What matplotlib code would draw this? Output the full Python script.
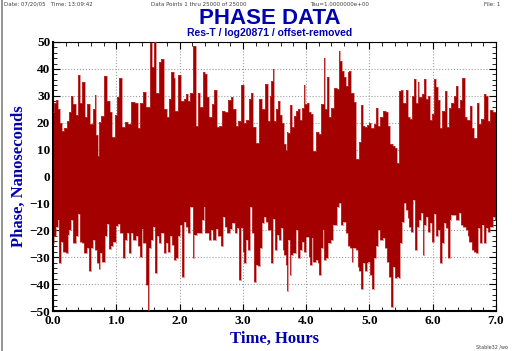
"""Phase data plot (Stable32 style)"""
import matplotlib
matplotlib.use('Agg')
import matplotlib.pyplot as plt
import numpy as np

# Envelope: time in hours, phase in ns
t_up = [0.00, 0.02, 0.06, 0.10, 0.13, 0.16, 0.20, 0.23, 0.27, 0.30, 0.34, 0.38, 0.40, 0.44,
        0.49, 0.51, 0.57, 0.60, 0.66, 0.67, 0.70, 0.72, 0.74, 0.79, 0.83, 0.87, 0.92, 0.96,
        1.00, 1.03, 1.07, 1.11, 1.15, 1.21, 1.26, 1.32, 1.36, 1.40, 1.45, 1.49, 1.52, 1.54,
        1.58, 1.62, 1.65, 1.69, 1.73, 1.77, 1.82, 1.85, 1.89, 1.92, 1.95, 2.01, 2.05, 2.08,
        2.11, 2.15, 2.19, 2.24, 2.27, 2.31, 2.35, 2.38, 2.42, 2.46, 2.48, 2.53, 2.57, 2.61,
        2.65, 2.69, 2.74, 2.79, 2.83, 2.87, 2.90, 2.95, 3.00, 3.04, 3.07, 3.11, 3.14, 3.18,
        3.22, 3.28, 3.33, 3.37, 3.41, 3.44, 3.46, 3.48, 3.51, 3.54, 3.57, 3.61, 3.64, 3.67,
        3.69, 3.71, 3.73, 3.76, 3.78, 3.83, 3.85, 3.88, 3.92, 3.95, 3.97, 4.00, 4.04, 4.06,
        4.10, 4.13, 4.18, 4.22, 4.26, 4.29, 4.32, 4.34, 4.38, 4.42, 4.46, 4.50, 4.53, 4.55,
        4.59, 4.61, 4.64, 4.67, 4.69, 4.74, 4.77, 4.82, 4.85, 4.89, 4.92, 4.95, 4.98, 5.01,
        5.05, 5.08, 5.12, 5.15, 5.19, 5.24, 5.27, 5.31, 5.35, 5.39, 5.42, 5.44, 5.48, 5.51,
        5.55, 5.59, 5.62, 5.66, 5.69, 5.72, 5.75, 5.77, 5.81, 5.84, 5.88, 5.91, 5.94, 5.97,
        6.00, 6.04, 6.07, 6.11, 6.13, 6.17, 6.21, 6.24, 6.27, 6.31, 6.35, 6.39, 6.42, 6.45,
        6.48, 6.53, 6.56, 6.61, 6.64, 6.68, 6.71, 6.75, 6.78, 6.83, 6.85, 6.89, 6.93, 6.96, 7.00]
upper = [23.8, 27.5, 28.4, 25.0, 20.0, 17.0, 18.0, 20.6, 24.0, 30.0, 27.0, 23.0, 37.8, 27.5,
         35.0, 22.0, 27.0, 19.4, 25.0, 30.4, 15.6, 7.5, 20.4, 22.5, 37.3, 28.0, 24.0, 14.8,
         22.9, 29.4, 36.6, 18.5, 20.3, 19.6, 27.8, 27.5, 18.0, 27.5, 31.5, 26.0, 26.0, 49.6,
         40.6, 50.0, 30.9, 42.5, 43.8, 25.0, 22.0, 28.8, 38.8, 36.6, 24.4, 37.8, 28.0, 28.8,
         30.6, 28.0, 31.0, 48.4, 18.8, 31.0, 26.0, 38.8, 38.0, 29.4, 22.0, 27.0, 32.0, 18.3,
         18.8, 24.4, 23.8, 28.4, 29.4, 25.0, 18.8, 20.6, 34.0, 20.0, 21.0, 28.8, 31.0, 18.3,
         12.4, 28.8, 25.0, 34.4, 20.6, 30.0, 35.4, 40.0, 20.6, 25.0, 28.0, 23.0, 20.0, 12.0,
         10.0, 16.6, 16.0, 26.6, 18.3, 22.5, 24.4, 25.0, 21.0, 25.6, 34.0, 27.0, 27.3, 23.8,
         23.4, 9.5, 16.6, 15.9, 27.0, 44.0, 25.0, 37.0, 22.0, 25.6, 33.0, 32.5, 46.5, 42.9,
         39.4, 36.9, 33.8, 38.8, 39.1, 30.9, 27.8, 6.5, 13.0, 26.4, 18.8, 18.3, 19.0, 20.0,
         18.0, 19.4, 25.4, 18.8, 22.3, 24.4, 24.1, 18.8, 12.0, 11.5, 10.5, 5.0, 31.6, 32.1,
         27.3, 32.1, 22.3, 21.3, 30.0, 36.3, 27.5, 35.3, 29.4, 30.6, 36.3, 28.8, 30.0, 20.9,
         23.4, 36.3, 33.1, 28.3, 18.0, 24.4, 31.6, 18.3, 25.3, 27.5, 30.0, 33.8, 25.6, 28.3,
         36.6, 22.0, 20.9, 26.3, 18.0, 14.4, 27.5, 19.4, 21.3, 30.6, 30.0, 20.6, 24.6, 23.8, 24.0]

t_lo = [0.00, 0.02, 0.06, 0.09, 0.11, 0.14, 0.18, 0.22, 0.25, 0.27, 0.30, 0.34, 0.38, 0.42,
        0.44, 0.48, 0.51, 0.55, 0.58, 0.61, 0.65, 0.68, 0.71, 0.74, 0.76, 0.80, 0.83, 0.87,
        0.90, 0.94, 0.97, 1.01, 1.05, 1.08, 1.12, 1.15, 1.19, 1.21, 1.25, 1.29, 1.33, 1.36,
        1.39, 1.41, 1.45, 1.49, 1.51, 1.53, 1.56, 1.59, 1.62, 1.66, 1.69, 1.73, 1.77, 1.79,
        1.83, 1.86, 1.90, 1.93, 1.96, 1.99, 2.02, 2.05, 2.08, 2.12, 2.15, 2.19, 2.22, 2.25,
        2.30, 2.33, 2.37, 2.39, 2.42, 2.46, 2.48, 2.52, 2.55, 2.59, 2.63, 2.67, 2.70, 2.74,
        2.77, 2.81, 2.85, 2.89, 2.92, 2.96, 2.98, 3.01, 3.04, 3.06, 3.10, 3.13, 3.16, 3.19,
        3.22, 3.25, 3.29, 3.32, 3.35, 3.38, 3.42, 3.46, 3.48, 3.52, 3.55, 3.59, 3.62, 3.64,
        3.67, 3.69, 3.71, 3.73, 3.75, 3.78, 3.82, 3.85, 3.89, 3.92, 3.96, 3.98, 4.03, 4.05,
        4.07, 4.10, 4.13, 4.17, 4.19, 4.22, 4.25, 4.27, 4.30, 4.33, 4.36, 4.41, 4.44, 4.47,
        4.51, 4.54, 4.56, 4.61, 4.64, 4.68, 4.71, 4.73, 4.76, 4.80, 4.83, 4.85, 4.88, 4.91,
        4.94, 4.97, 5.00, 5.03, 5.05, 5.09, 5.13, 5.15, 5.19, 5.23, 5.27, 5.30, 5.33, 5.35,
        5.38, 5.42, 5.45, 5.47, 5.50, 5.54, 5.56, 5.59, 5.62, 5.64, 5.68, 5.71, 5.74, 5.77,
        5.80, 5.83, 5.85, 5.88, 5.91, 5.93, 5.97, 6.00, 6.04, 6.07, 6.10, 6.13, 6.17, 6.19,
        6.22, 6.26, 6.28, 6.31, 6.35, 6.39, 6.43, 6.47, 6.50, 6.54, 6.56, 6.60, 6.63, 6.67,
        6.71, 6.73, 6.76, 6.80, 6.83, 6.85, 6.89, 6.93, 6.96, 7.00]
lower = [-24.8, -22.1, -18.6, -16.2, -32.0, -24.2, -27.9, -28.5, -21.7, -19.9, -16.2, -24.8,
         -22.3, -14.0, -24.2, -24.8, -28.5, -26.7, -35.3, -26.7, -23.6, -27.3, -32.2, -34.4,
         -28.5, -31.6, -22.3, -17.7, -27.0, -26.0, -24.2, -18.4, -17.7, -21.1, -30.4, -23.6,
         -21.1, -28.5, -21.1, -23.6, -22.1, -25.8, -29.8, -19.5, -24.8, -40.2, -50.0, -26.7,
         -23.6, -18.6, -35.9, -22.3, -24.8, -21.1, -28.3, -24.8, -27.9, -22.3, -25.4, -31.0,
         -30.4, -22.3, -18.0, -37.4, -16.8, -18.6, -21.1, -11.2, -30.4, -21.7, -21.1, -21.1,
         -16.2, -11.2, -21.1, -21.1, -23.6, -19.9, -23.6, -19.5, -22.3, -26.0, -15.0, -18.6,
         -21.1, -19.5, -17.4, -21.1, -19.3, -38.4, -19.3, -27.9, -32.2, -23.6, -27.3, -11.2,
         -21.1, -39.4, -32.8, -33.2, -26.7, -17.2, -15.0, -16.8, -19.9, -32.2, -15.9, -27.3,
         -21.7, -23.6, -19.3, -27.3, -29.1, -32.8, -42.7, -23.6, -36.5, -29.1, -28.5, -19.9,
         -30.4, -27.3, -24.2, -27.9, -22.6, -29.8, -32.8, -23.0, -31.6, -31.0, -32.2, -36.5,
         -26.7, -19.9, -31.0, -30.4, -24.8, -23.6, -18.0, -18.0, -11.5, -10.0, -18.0, -16.8,
         -21.1, -26.0, -26.7, -31.6, -26.7, -27.3, -33.5, -35.3, -41.9, -32.2, -35.3, -32.2,
         -31.6, -36.5, -41.9, -30.4, -26.0, -19.9, -23.6, -23.0, -26.7, -31.6, -37.2, -48.5,
         -33.5, -37.8, -37.2, -37.8, -24.8, -16.8, -9.8, -12.5, -15.6, -18.6, -20.5, -8.8,
         -27.3, -18.6, -16.2, -13.7, -29.1, -18.0, -15.0, -20.5, -17.4, -24.2, -14.0, -22.3,
         -19.9, -32.2, -24.8, -17.4, -19.3, -30.4, -16.2, -14.4, -14.4, -16.2, -13.7, -18.0,
         -18.6, -19.9, -22.3, -24.2, -27.3, -27.9, -28.5, -19.3, -24.8, -18.0, -24.8, -19.3,
         -20.5, -18.6, -15.0, -16.0]

x_ticks = [0.0, 1.0, 2.0, 3.0, 4.0, 5.0, 6.0, 7.0]
y_ticks = [-50, -40, -30, -20, -10, 0, 10, 20, 30, 40, 50]

red = '#a50000'
blue = '#0000b0'
serif = ['Liberation Serif', 'DejaVu Serif']

fig = plt.figure(figsize=(5.12, 3.51), dpi=100)
ax = fig.add_axes([53 / 512, 40 / 351, 443 / 512, 269 / 351])

ax.fill_between(t_up, 0, upper, step='mid', color=red, lw=0, zorder=2)
ax.fill_between(t_lo, lower, 0, step='mid', color=red, lw=0, zorder=2)
ax.step(t_up, upper, where='mid', color='#c84848', lw=0.4, zorder=3)
ax.step(t_lo, lower, where='mid', color='#c84848', lw=0.4, zorder=3)

ax.set_xlim(0, 7)
ax.set_ylim(-50, 50)
ax.set_xticks(x_ticks)
ax.set_xticklabels([f'{v:.1f}' for v in x_ticks])
ax.set_yticks(y_ticks)
ax.set_xticks(np.arange(0, 7.01, 0.2), minor=True)
ax.set_yticks(np.arange(-50, 51, 2), minor=True)
ax.tick_params(which='both', direction='in', right=True, top=True, color='black')
ax.tick_params(which='major', length=5, width=0.8, pad=2)
ax.tick_params(axis='x', which='major', pad=3)
ax.tick_params(which='minor', length=3, width=0.6)
for lab in ax.get_xticklabels() + ax.get_yticklabels():
    lab.set_fontfamily(serif)
    lab.set_fontweight('bold')
    lab.set_fontsize(9.5)
ax.grid(True, which='major', color='#a0a0a0', linestyle=':', linewidth=0.8, zorder=1)
ax.set_axisbelow(True)
for side in ['left', 'bottom']:
    ax.spines[side].set_linewidth(1.5)
for side in ['right', 'top']:
    ax.spines[side].set_linewidth(0.8)

ax.set_xlabel('Time, Hours', family=serif, fontweight='bold', fontsize=12, color=blue, labelpad=3)
ax.set_ylabel('Phase, Nanoseconds', family=serif, fontweight='bold', fontsize=12, color=blue, labelpad=2)

# header
fig.text(270 / 512, 1 - 18 / 351, 'PHASE DATA', ha='center', va='center',
         fontsize=16, fontweight='bold', color=blue, family='Liberation Sans')
fig.text(270 / 512, 1 - 33.5 / 351, 'Res-T / log20871 / offset-removed', ha='center', va='center',
         fontsize=7.5, fontweight='bold', color=blue, family='Liberation Sans')
small = dict(fontsize=4, color='#404040', va='center', family='DejaVu Sans')
fig.text(4 / 512, 1 - 4.5 / 351, 'Date: 07/20/05   Time: 13:09:42', ha='left', **small)
fig.text(199 / 512, 1 - 4.5 / 351, 'Data Points 1 thru 25000 of 25000', ha='center', **small)
fig.text(339 / 512, 1 - 4.5 / 351, 'Tau=1.0000000e+00', ha='center', **small)
fig.text(500 / 512, 1 - 4.5 / 351, 'File: 1', ha='right', **small)
fig.text(508 / 512, 1 - 347 / 351, 'Stable32 /wo', ha='right', fontsize=3.5, color='#404040',
         va='center', family='DejaVu Sans')

fig.add_artist(plt.Line2D([2 / 512, 2 / 512], [0, 1], color='#808080', lw=1.2))

plt.savefig('out.png', dpi=100)
plt.close()
